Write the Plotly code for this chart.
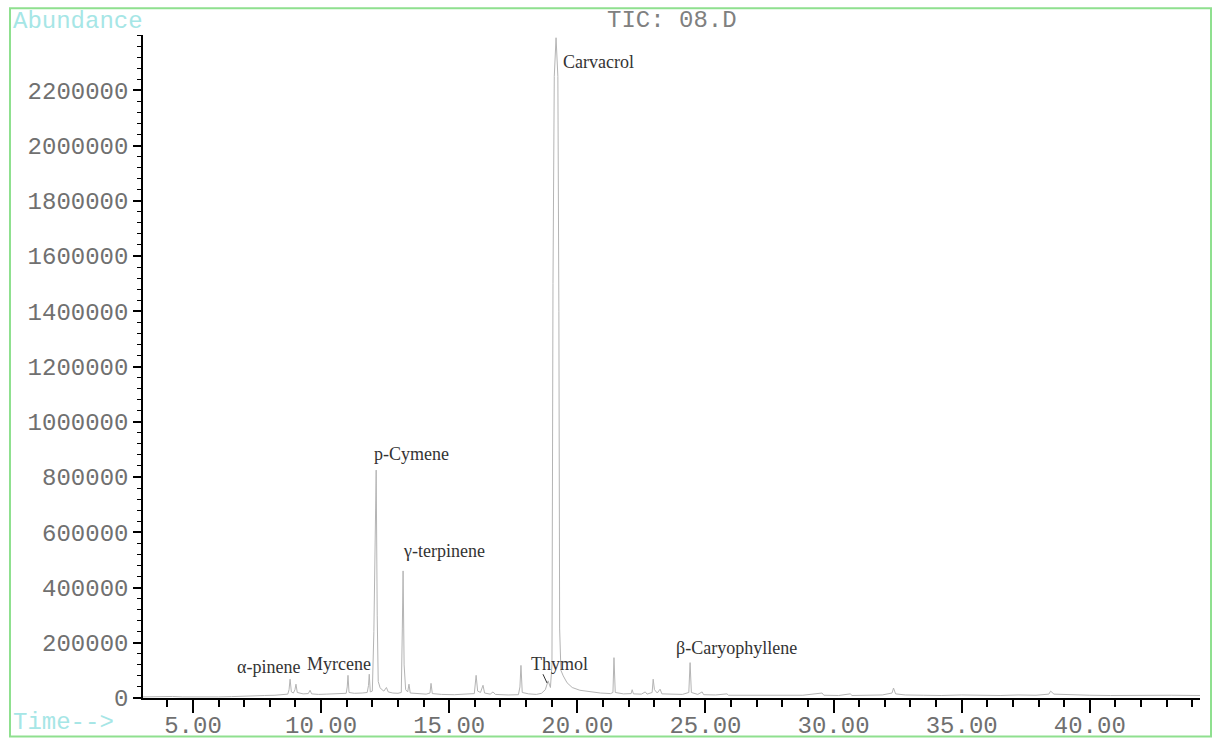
import plotly.graph_objects as go

# Retention time (min) and abundance
time_min = [3.05, 3.4, 3.8, 4.2, 4.6, 5.0, 5.5, 6.0, 6.5, 7.0, 7.4, 7.8, 8.2, 8.5, 8.7,
            8.75, 8.79, 8.84, 8.92, 8.98, 9.02, 9.07, 9.3, 9.5, 9.57, 9.63, 9.9, 10.2, 10.5,
            10.8, 10.98, 11.02, 11.05, 11.09, 11.3, 11.6, 11.8, 11.85, 11.88, 11.92, 12.0,
            12.06, 12.11, 12.15, 12.19, 12.23, 12.3, 12.35, 12.45, 12.55, 12.62, 12.8, 13.0,
            13.13, 13.17, 13.2, 13.24, 13.3, 13.38, 13.43, 13.48, 13.8, 14.1, 14.25, 14.29,
            14.34, 14.7, 15.2, 15.7, 15.98, 16.05, 16.11, 16.22, 16.32, 16.38, 16.6, 16.71,
            16.8, 17.3, 17.7, 17.76, 17.8, 17.85, 18.1, 18.4, 18.6, 18.75, 18.86, 18.95,
            19.01, 19.05, 19.1, 19.17, 19.24, 19.28, 19.31, 19.36, 19.45, 19.6, 19.8, 20.1,
            20.5, 20.9, 21.3, 21.39, 21.43, 21.48, 21.8, 22.1, 22.14, 22.19, 22.5, 22.65,
            22.72, 22.92, 22.96, 23.01, 23.12, 23.23, 23.3, 23.7, 24.1, 24.35, 24.4, 24.45,
            24.7, 24.87, 24.93, 25.4, 25.84, 25.9, 26.5, 27.2, 28.0, 28.8, 29.55, 29.62,
            30.2, 30.65, 30.72, 31.3, 31.9, 32.28, 32.34, 32.42, 32.8, 33.5, 34.2, 35.0,
            35.7, 36.5, 37.2, 37.9, 38.4, 38.47, 38.6, 39.3, 40.0, 40.8, 41.6, 42.4, 43.2, 44.3]
abundance = [4000, 5000, 3500, 5500, 4000, 3500, 4500, 4000, 5000, 5500, 7000, 9000, 10000, 12000, 14000,
             30000, 68000, 22000, 18000, 30000, 50000, 20000, 15000, 16000, 28000, 15000, 13000, 14000, 16000,
             18000, 17000, 40000, 82000, 20000, 17000, 18000, 20000, 45000, 86000, 22000, 25000,
             240000, 700000, 825000, 300000, 60000, 38000, 32000, 25000, 38000, 22000, 18000, 17000,
             20000, 250000, 460000, 120000, 30000, 22000, 50000, 18000, 15000, 14000, 18000, 53000,
             16000, 13000, 12000, 14000, 16000, 82000, 25000, 20000, 46000, 18000, 14000, 22000,
             13000, 11000, 12000, 40000, 118000, 20000, 15000, 13000, 17000, 30000, 62000, 38000,
             120000, 1500000, 2250000, 2390000, 2250000, 1400000, 250000, 100000, 80000, 55000, 38000, 28000,
             22000, 18000, 16000, 20000, 146000, 20000, 15000, 16000, 30000, 15000, 14000, 22000,
             14000, 20000, 68000, 30000, 18000, 32000, 15000, 13000, 13000, 20000, 128000, 20000,
             13000, 22000, 12000, 11000, 15000, 10000, 10000, 9000, 9000, 10000, 18000, 10000,
             9000, 15000, 9000, 10000, 11000, 18000, 36000, 15000, 11000, 10000, 9000, 11000,
             10000, 9000, 11000, 10000, 14000, 25000, 14000, 11000, 10000, 9000, 10000, 9000, 10000, 9000]

# Peak labels
peak_names = ["Carvacrol", "p-Cymene", "γ-terpinene", "α-pinene", "Myrcene", "Thymol", "β-Caryophyllene"]
label_time = [20.81, 13.51, 14.78, 7.93, 10.70, 19.29, 26.20]
label_abund = [2303000, 883000, 533000, 111000, 122000, 122000, 182000]

x_ticks = [5, 10, 15, 20, 25, 30, 35, 40]
x_tick_text = ["5.00", "10.00", "15.00", "20.00", "25.00", "30.00", "35.00", "40.00"]
y_ticks = list(range(0, 2200001, 200000))
y_tick_text = [str(v) for v in y_ticks]

W, H = 1213, 752
L, R, T, B = 143, 13, 35, 46
pw, ph = W - L - R, H - T - B


def px(x):
    return (x - L) / pw


def py(y):
    return (H - B - y) / ph


mono = "Liberation Mono, Courier New, monospace"
serif = "Liberation Serif, Times New Roman, serif"

fig = go.Figure()
fig.add_trace(go.Scatter(x=time_min, y=abundance, mode="lines",
                         line=dict(color="#b4b4b4", width=1), hoverinfo="skip",
                         showlegend=False))

for name, tx, ty in zip(peak_names, label_time, label_abund):
    fig.add_annotation(x=tx, y=ty, text=name, showarrow=False,
                       font=dict(family=serif, size=18, color="#333333"),
                       xanchor="center", yanchor="middle")

# Thymol leader line
fig.add_shape(type="line", xref="x", yref="y", x0=18.66, y0=86000, x1=18.82, y1=54000,
              line=dict(color="#333333", width=1))

# Green frame
fig.add_shape(type="rect", xref="paper", yref="paper",
              x0=px(10), x1=px(1211), y0=py(745), y1=py(8),
              line=dict(color="#8fe08f", width=2), fillcolor="rgba(0,0,0,0)", layer="below")

fig.add_annotation(xref="paper", yref="paper", x=px(11), y=py(21), text="Abundance",
                   showarrow=False, xanchor="left", yanchor="middle",
                   font=dict(family=mono, size=24, color="#a6e6e6"))
fig.add_annotation(xref="paper", yref="paper", x=px(11), y=py(731), text="Time-->",
                   showarrow=False, xanchor="left", yanchor="middle",
                   font=dict(family=mono, size=24, color="#a6e6e6"))
fig.add_annotation(xref="paper", yref="paper", x=px(672), y=py(20), text="TIC: 08.D",
                   showarrow=False, xanchor="center", yanchor="middle",
                   font=dict(family=mono, size=24, color="#808080"))

fig.update_layout(
    width=W, height=H, autosize=False,
    margin=dict(l=L, r=R, t=T, b=B, pad=0),
    paper_bgcolor="white", plot_bgcolor="white",
    showlegend=False,
    xaxis=dict(range=[3.05, 44.3], showgrid=False, zeroline=False,
               showline=True, linecolor="black", linewidth=1.5,
               ticks="outside", ticklen=13, tickwidth=1.5, tickcolor="black",
               ticklabelstandoff=-9,
               tickmode="array", tickvals=x_ticks, ticktext=x_tick_text,
               tickfont=dict(family=mono, size=24, color="#707070"),
               minor=dict(dtick=1, tick0=0, ticks="outside", ticklen=7, tickwidth=1.5,
                          tickcolor="black", showgrid=False)),
    yaxis=dict(range=[0, 2400000], showgrid=False, zeroline=False,
               showline=True, linecolor="black", linewidth=1.5,
               ticks="outside", ticklen=8, tickwidth=1.5, tickcolor="black",
               tickmode="array", tickvals=y_ticks, ticktext=y_tick_text,
               tickfont=dict(family=mono, size=24, color="#707070"),
               minor=dict(dtick=40000, tick0=0, ticks="outside", ticklen=4, tickwidth=1,
                          tickcolor="black", showgrid=False)),
)

fig.write_html("out.html",
               config={"responsive": False, "displayModeBar": False},
               post_script="document.body.style.margin='0';document.body.style.overflow='hidden';")
